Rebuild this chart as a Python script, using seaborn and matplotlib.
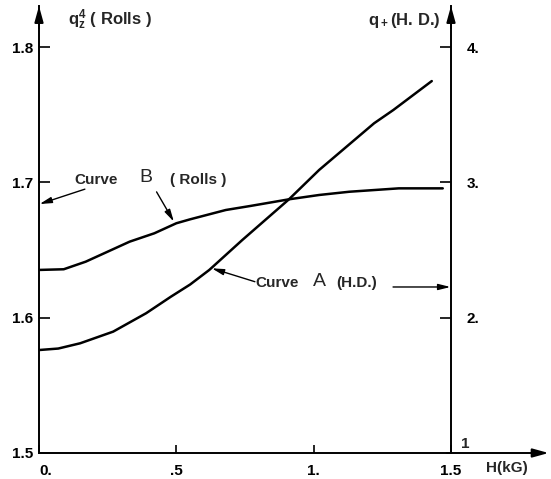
import matplotlib
matplotlib.use("Agg")
import matplotlib.pyplot as plt
import seaborn as sns

# curve B (rolls), read against the left axis
h_rolls = [0.0, 0.09, 0.17, 0.25, 0.33, 0.42, 0.50, 0.55, 0.68, 0.77, 0.91, 1.02, 1.13, 1.31, 1.47]
q_rolls = [1.6353, 1.6358, 1.6414, 1.6488, 1.6562, 1.6624, 1.6698, 1.6727, 1.6796, 1.6826,
           1.6875, 1.6907, 1.6931, 1.6956, 1.6956]

# curve A (H.D.), read against the right axis
h_hd = [0.0, 0.07, 0.15, 0.27, 0.39, 0.48, 0.55, 0.62, 0.74, 0.91, 1.02, 1.22, 1.29, 1.43]
q_hd = [1.761, 1.772, 1.811, 1.897, 2.033, 2.155, 2.245, 2.353, 2.574, 2.875, 3.092, 3.437, 3.535, 3.749]

x_ticks = [0.0, 0.5, 1.0, 1.5]
x_labels = ["0.", ".5", "1.", "1.5"]
left_ticks = [1.5, 1.6, 1.7, 1.8]
left_labels = ["1.5", "1.6", "1.7", "1.8"]
right_ticks = [2, 3, 4]
right_labels = ["2.", "3.", "4."]

sns.set_theme(style="ticks")
plt.rcParams["font.family"] = ["Liberation Sans", "DejaVu Sans"]
plt.rcParams["font.weight"] = "bold"
plt.rcParams["mathtext.default"] = "regular"

W, H = 551, 479
fig = plt.figure(figsize=(W / 100, H / 100), dpi=100)
ax = fig.add_axes([39 / W, 26 / H, (451 - 39) / W, (453 - 6) / H])
ax2 = ax.twinx()

sns.lineplot(x=h_rolls, y=q_rolls, ax=ax, color="black", lw=1.8, estimator=None)
sns.lineplot(x=h_hd, y=q_hd, ax=ax2, color="black", lw=1.8, estimator=None)

ax.set_xlim(0, 1.5)
ax.set_ylim(1.5, 1.5 + 447 / 1353)
ax2.set_ylim(1, 1 + 447 / 135.3)

for s in ["top", "right"]:
    ax.spines[s].set_visible(False)
for s in ["top", "left", "bottom"]:
    ax2.spines[s].set_visible(False)
for sp in [ax.spines["left"], ax.spines["bottom"], ax2.spines["right"]]:
    sp.set_color("black")
    sp.set_linewidth(1.4)

ax.set_xticks(x_ticks, x_labels)
ax.set_yticks(left_ticks, left_labels)
ax2.set_yticks(right_ticks, right_labels)
ax.tick_params(axis="x", direction="in", length=6, width=1.2, pad=8, labelsize=11, colors="black")
ax.tick_params(axis="y", direction="in", length=8, width=1.2, pad=4, labelsize=11, colors="black")
ax2.tick_params(axis="y", direction="in", length=8, width=1.2, pad=11, labelsize=11, colors="black")
ax.get_xticklabels()[0].set_ha("left")
ax.set_xlabel("")
ax.set_ylabel("")
ax2.set_ylabel("")

# arrow heads on the axes
head = dict(arrowstyle="-|>,head_length=0.8,head_width=0.22", color="black", lw=1.4,
            shrinkA=0, shrinkB=0)
ax.annotate("", xy=(0, 1.0), xytext=(0, 0.95), xycoords="axes fraction", arrowprops=head,
            annotation_clip=False)
ax.annotate("", xy=(1, 1.0), xytext=(1, 0.95), xycoords="axes fraction", arrowprops=head,
            annotation_clip=False)
ax.annotate("", xy=(1.237, 0), xytext=(0.99, 0), xycoords="axes fraction", arrowprops=head,
            annotation_clip=False)

fig.text(68 / W, 1 - 20 / H, r"$q_z^4$ ( Rolls )", fontsize=12, ha="left", va="center")
fig.text(441 / W, 1 - 20 / H, r"$q_+$(H. D.)", fontsize=12, ha="right", va="center")
fig.text(507 / W, 1 - 468 / H, "H(kG)", fontsize=11, ha="center", va="center")
ax2.text(1.5, 1.07, "1", fontsize=11, ha="left", va="center",
         transform=ax2.transData + matplotlib.transforms.ScaledTranslation(0.1, 0, fig.dpi_scale_trans))

# curve labels and pointer arrows
thin = dict(arrowstyle="-|>,head_length=0.6,head_width=0.15", color="black", lw=1.0,
            shrinkA=0, shrinkB=0)
ax.text(0.207, 1.7018, "Curve", fontsize=11, ha="center", va="center")
ax.text(0.39, 1.7033, "B", fontsize=14, fontweight="normal", ha="center", va="center")
ax.text(0.579, 1.7018, "( Rolls )", fontsize=11, ha="center", va="center")
ax.annotate("", xy=(0.002, 1.684), xytext=(0.167, 1.695), arrowprops=thin, annotation_clip=False)
ax.annotate("", xy=(0.491, 1.671), xytext=(0.428, 1.693), arrowprops=thin)

ax.text(0.866, 1.6256, "Curve", fontsize=11, ha="center", va="center")
ax.text(1.02, 1.6266, "A", fontsize=14, fontweight="normal", ha="center", va="center")
ax.text(1.157, 1.6256, "(H.D.)", fontsize=11, ha="center", va="center")
ax.annotate("", xy=(0.629, 1.6365), xytext=(0.786, 1.6266), arrowprops=thin)
ax.annotate("", xy=(1.498, 1.6227), xytext=(1.289, 1.6227), arrowprops=thin, annotation_clip=False)

fig.savefig("out.png", dpi=100)
